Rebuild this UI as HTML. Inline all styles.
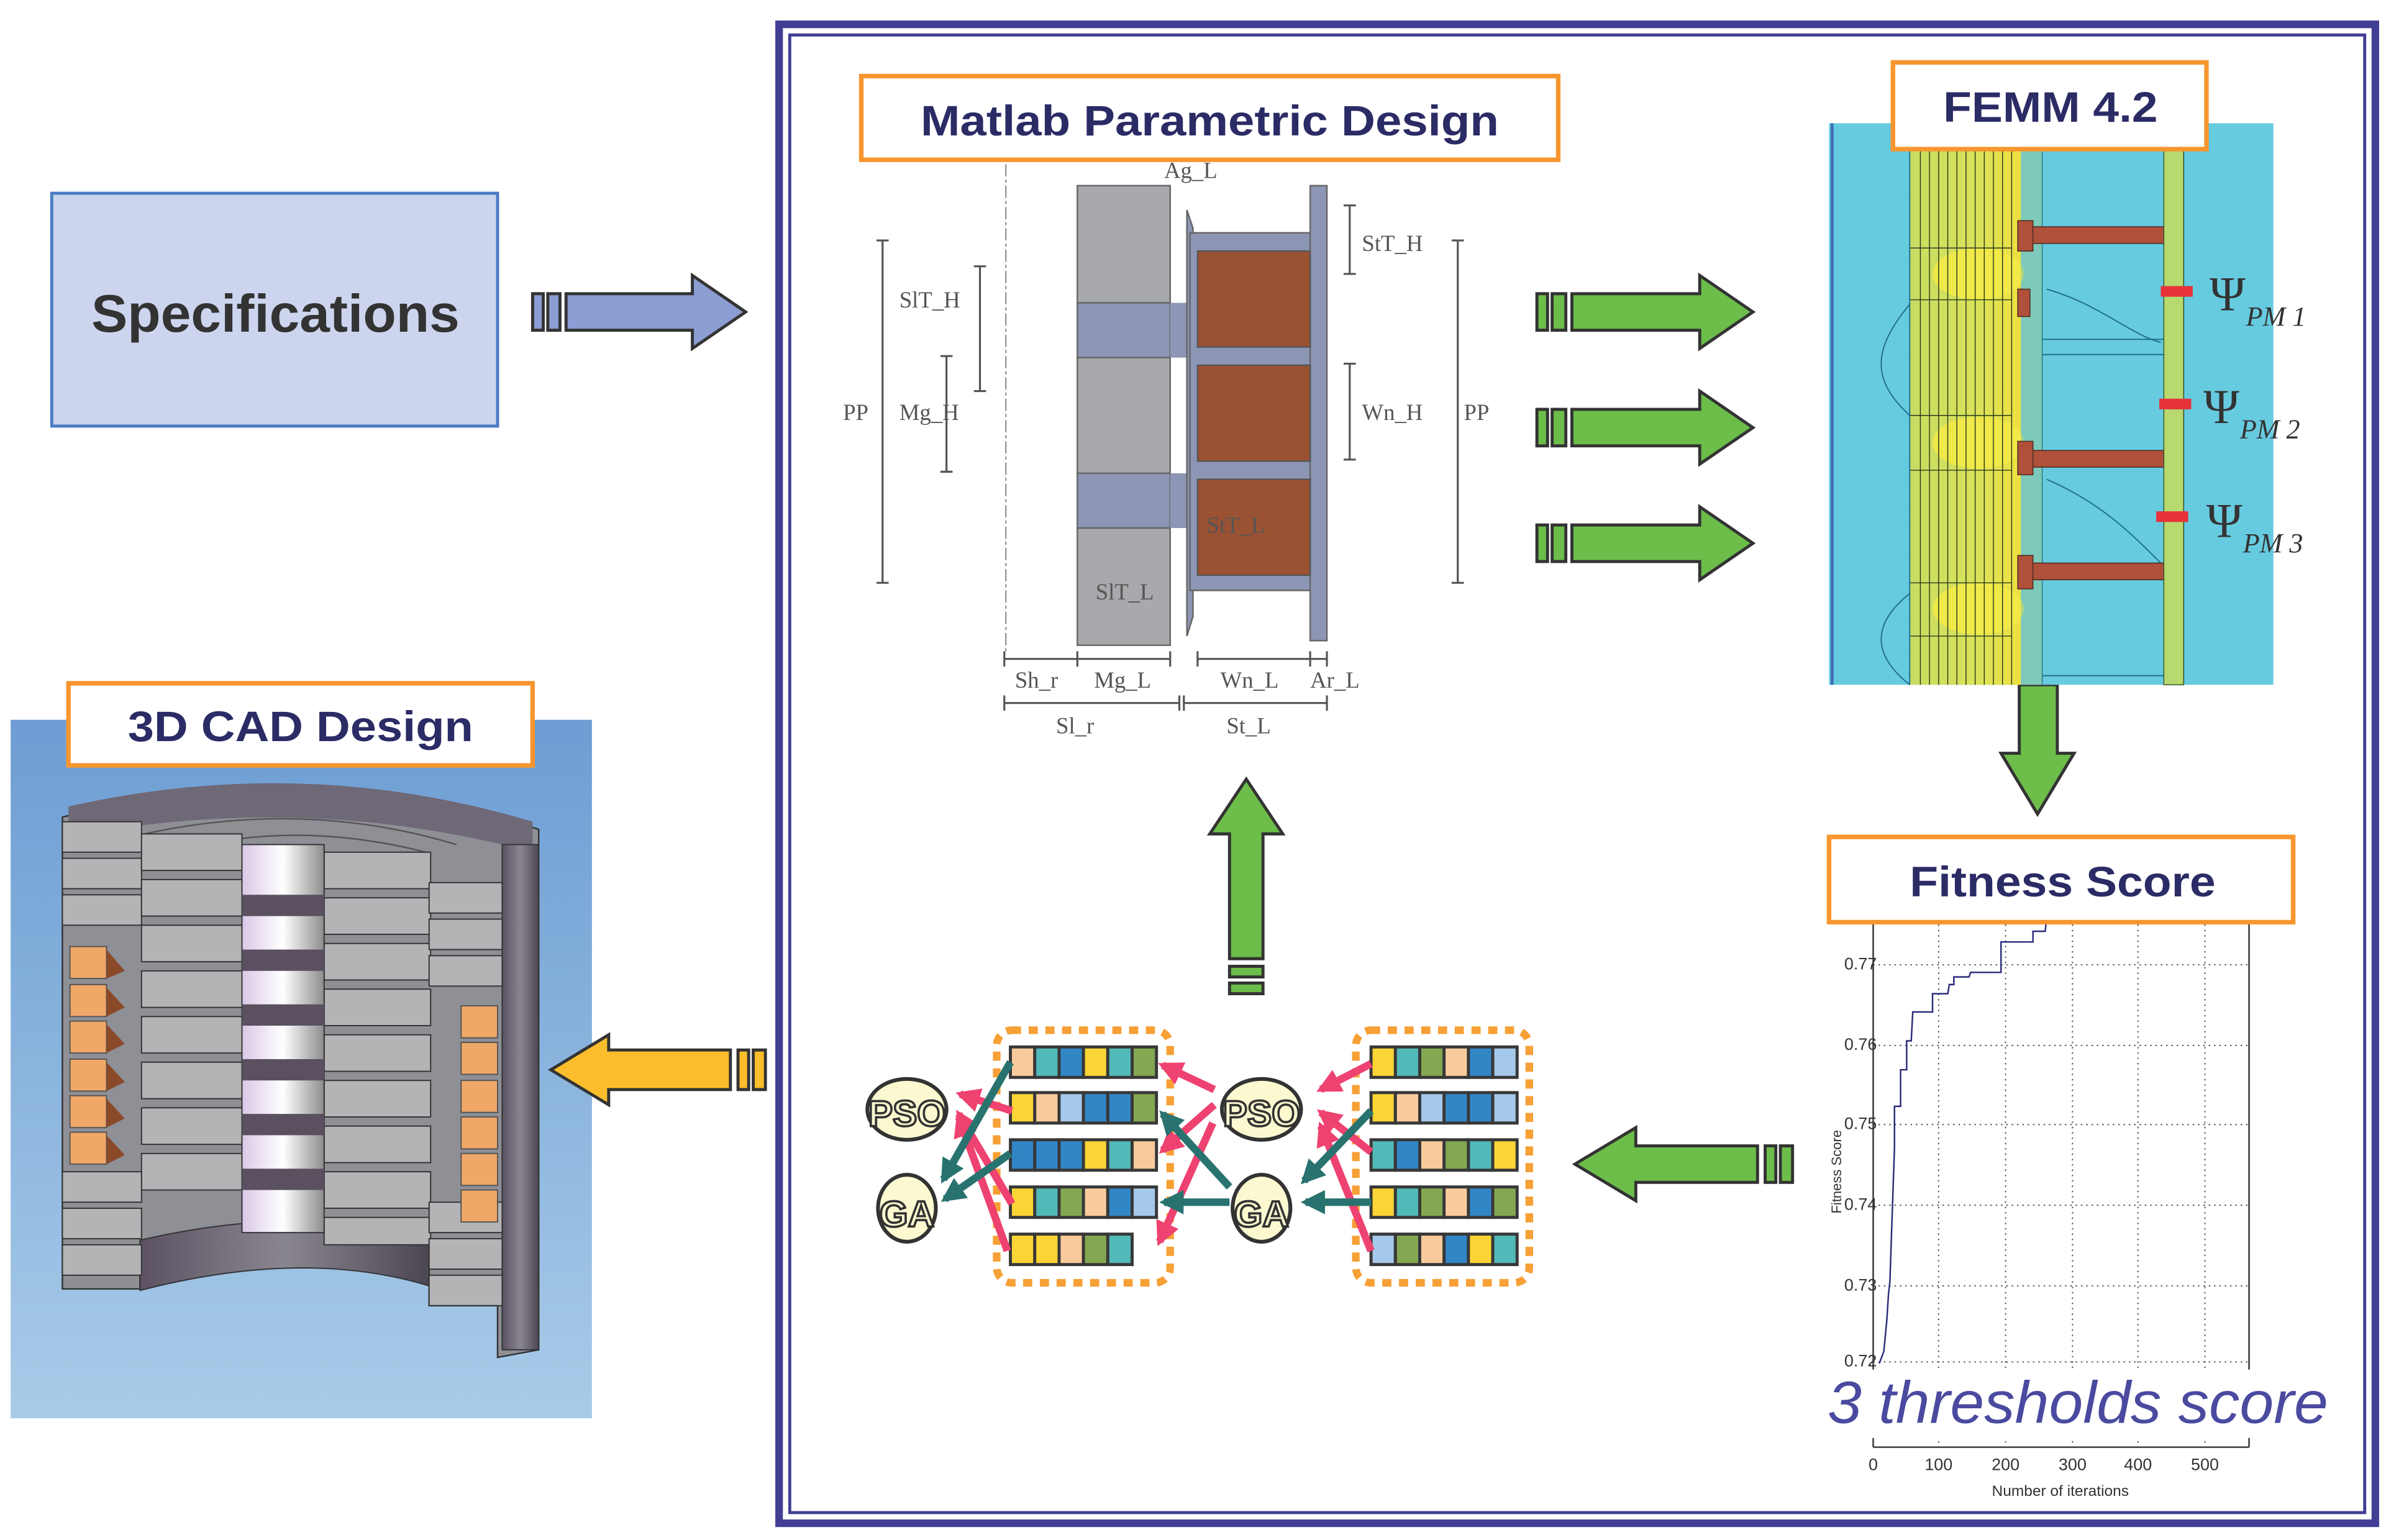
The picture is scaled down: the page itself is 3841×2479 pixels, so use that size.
<!DOCTYPE html>
<html><head><meta charset="utf-8"><style>
html,body{margin:0;padding:0;background:#fff;}
svg{display:block;}
text{font-family:"Liberation Sans",sans-serif;}
.serif{font-family:"Liberation Serif",serif;fill:#555;font-size:15px;}
</style></head><body>
<svg width="3841" height="2479" viewBox="0 0 1568 1012" preserveAspectRatio="none" xmlns="http://www.w3.org/2000/svg">
<defs>
<linearGradient id="bg3d" x1="0" y1="0" x2="0" y2="1"><stop offset="0" stop-color="#6d9dd3"/><stop offset="1" stop-color="#a8cbe8"/></linearGradient>
<linearGradient id="shell" x1="0" y1="0" x2="1" y2="0"><stop offset="0" stop-color="#5c5262"/><stop offset="0.5" stop-color="#8a8690"/><stop offset="1" stop-color="#4c4652"/></linearGradient>
<linearGradient id="col" x1="0" y1="0" x2="1" y2="0"><stop offset="0" stop-color="#d9c8e6"/><stop offset="0.5" stop-color="#ffffff"/><stop offset="1" stop-color="#8d8d8d"/></linearGradient>
<linearGradient id="yel" x1="0" y1="0" x2="1" y2="0"><stop offset="0" stop-color="#c8dc62"/><stop offset="0.6" stop-color="#d9e25a"/><stop offset="1" stop-color="#f0e040"/></linearGradient>
<marker id="mp" viewBox="0 0 10 10" refX="8" refY="5" markerWidth="3.2" markerHeight="3.2" orient="auto"><path d="M0,0L10,5L0,10z" fill="#ee4270"/></marker>
<marker id="mt" viewBox="0 0 10 10" refX="8" refY="5" markerWidth="3.2" markerHeight="3.2" orient="auto"><path d="M0,0L10,5L0,10z" fill="#287370"/></marker>
</defs>

<rect x="512" y="16" width="1049" height="985" fill="none" stroke="#413f94" stroke-width="5"/>
<rect x="519" y="23" width="1035" height="971" fill="none" stroke="#413f94" stroke-width="2"/>

<rect x="34" y="127" width="293" height="153" fill="#cdd5ee" stroke="#4a7cc4" stroke-width="2"/>
<text x="60" y="218" font-size="35" font-weight="bold" fill="#333" textLength="242" lengthAdjust="spacingAndGlyphs">Specifications</text>
<g fill="#8c9dd4" stroke="#333" stroke-width="2">
<rect x="350" y="193" width="7" height="24"/><rect x="360" y="193" width="8" height="24"/>
<polygon points="372,193 455,193 455,181 490,205 455,229 455,217 372,217"/>
</g>

<rect x="566" y="50" width="458" height="55" fill="#fff" stroke="#f7962f" stroke-width="3"/>
<text x="605" y="89" font-size="28" font-weight="bold" fill="#2b2b66" textLength="380" lengthAdjust="spacingAndGlyphs">Matlab Parametric Design</text>

<line x1="661" y1="108" x2="661" y2="428" stroke="#999" stroke-width="1" stroke-dasharray="8,2,2,2"/>
<rect x="708" y="122" width="61" height="77" fill="#a8a9ac" stroke="#666" stroke-width="1"/>
<rect x="708" y="199" width="61" height="36" fill="#8d96b4" stroke="#666" stroke-width="1"/>
<rect x="708" y="235" width="61" height="76" fill="#a8a9ac" stroke="#666" stroke-width="1"/>
<rect x="708" y="311" width="61" height="36" fill="#8d96b4" stroke="#666" stroke-width="1"/>
<rect x="708" y="347" width="61" height="77" fill="#a8a9ac" stroke="#666" stroke-width="1"/>
<rect x="769" y="199" width="12" height="36" fill="#8d96b4"/>
<rect x="769" y="311" width="12" height="36" fill="#8d96b4"/>
<path d="M780,138 L784,150 L784,405 L780,418 Z" fill="#8d96b4" stroke="#666" stroke-width="1"/>
<rect x="782" y="153" width="80" height="235" fill="#8d96b4" stroke="#666" stroke-width="1"/>
<rect x="861" y="122" width="11" height="299" fill="#8d96b4" stroke="#666" stroke-width="1"/>
<rect x="787" y="165" width="74" height="63" fill="#9a5232" stroke="#555" stroke-width="1"/>
<rect x="787" y="240" width="74" height="63" fill="#9a5232" stroke="#555" stroke-width="1"/>
<rect x="787" y="315" width="74" height="63" fill="#9a5232" stroke="#555" stroke-width="1"/>
<g stroke="#555" stroke-width="1.3" fill="none">
<line x1="580" y1="158" x2="580" y2="383"/><line x1="576" y1="158" x2="584" y2="158"/><line x1="576" y1="383" x2="584" y2="383"/>
<line x1="644" y1="175" x2="644" y2="257"/><line x1="640" y1="175" x2="648" y2="175"/><line x1="640" y1="257" x2="648" y2="257"/>
<line x1="622" y1="234" x2="622" y2="310"/><line x1="618" y1="234" x2="626" y2="234"/><line x1="618" y1="310" x2="626" y2="310"/>
<line x1="887" y1="135" x2="887" y2="180"/><line x1="883" y1="135" x2="891" y2="135"/><line x1="883" y1="180" x2="891" y2="180"/>
<line x1="887" y1="239" x2="887" y2="302"/><line x1="883" y1="239" x2="891" y2="239"/><line x1="883" y1="302" x2="891" y2="302"/>
<line x1="958" y1="158" x2="958" y2="383"/><line x1="954" y1="158" x2="962" y2="158"/><line x1="954" y1="383" x2="962" y2="383"/>
<line x1="660" y1="433" x2="769" y2="433"/><line x1="660" y1="428" x2="660" y2="438"/><line x1="708" y1="428" x2="708" y2="438"/><line x1="769" y1="428" x2="769" y2="438"/>
<line x1="787" y1="433" x2="872" y2="433"/><line x1="787" y1="428" x2="787" y2="438"/><line x1="861" y1="428" x2="861" y2="438"/><line x1="872" y1="428" x2="872" y2="438"/>
<line x1="660" y1="462" x2="775" y2="462"/><line x1="660" y1="457" x2="660" y2="467"/><line x1="775" y1="457" x2="775" y2="467"/>
<line x1="778" y1="462" x2="872" y2="462"/><line x1="778" y1="457" x2="778" y2="467"/><line x1="872" y1="457" x2="872" y2="467"/>
</g>
<text class="serif" x="765" y="117">Ag_L</text>
<text class="serif" x="591" y="202">SlT_H</text>
<text class="serif" x="554" y="276">PP</text>
<text class="serif" x="591" y="276">Mg_H</text>
<text class="serif" x="895" y="165">StT_H</text>
<text class="serif" x="895" y="276">Wn_H</text>
<text class="serif" x="962" y="276">PP</text>
<text class="serif" x="793" y="350">StT_L</text>
<text class="serif" x="720" y="394">SlT_L</text>
<text class="serif" x="667" y="452">Sh_r</text>
<text class="serif" x="719" y="452">Mg_L</text>
<text class="serif" x="802" y="452">Wn_L</text>
<text class="serif" x="861" y="452">Ar_L</text>
<text class="serif" x="694" y="482">Sl_r</text>
<text class="serif" x="806" y="482">St_L</text>

<g fill="#6cbd4a" stroke="#333" stroke-width="2">
<rect x="1010" y="193" width="7" height="24"/><rect x="1020" y="193" width="9" height="24"/>
<polygon points="1033,193 1117,193 1117,181 1152,205 1117,229 1117,217 1033,217"/>
<rect x="1010" y="269" width="7" height="24"/><rect x="1020" y="269" width="9" height="24"/>
<polygon points="1033,269 1117,269 1117,257 1152,281 1117,305 1117,293 1033,293"/>
<rect x="1010" y="345" width="7" height="24"/><rect x="1020" y="345" width="9" height="24"/>
<polygon points="1033,345 1117,345 1117,333 1152,357 1117,381 1117,369 1033,369"/>
<polygon points="1327,450 1352,450 1352,495 1363,495 1339,535 1315,495 1327,495"/>
<polygon points="1035,765 1075,741 1075,753 1155,753 1155,777 1075,777 1075,789"/>
<rect x="1160" y="753" width="7" height="24"/><rect x="1170" y="753" width="8" height="24"/>
<polygon points="819,512 843,548 830,548 830,630 808,630 808,548 795,548"/>
<rect x="808" y="635" width="22" height="7"/><rect x="808" y="646" width="22" height="7"/>
</g>

<!-- FEMM -->
<rect x="1202" y="81" width="292" height="369" fill="#67cbe0"/>
<rect x="1203" y="81" width="2" height="369" fill="#3f6fb8"/>
<rect x="1255" y="81" width="73" height="369" fill="url(#yel)"/>
<g fill="#f2ea48" opacity="0.9">
<ellipse cx="1300" cy="180" rx="30" ry="17"/><ellipse cx="1300" cy="291" rx="30" ry="17"/><ellipse cx="1300" cy="400" rx="30" ry="17"/>
</g>
<g stroke="#2b3a1c" stroke-width="0.6" fill="none">
<line x1="1262" y1="81" x2="1262" y2="450"/><line x1="1268" y1="81" x2="1268" y2="450"/><line x1="1274" y1="81" x2="1274" y2="450"/>
<line x1="1280" y1="81" x2="1280" y2="450"/><line x1="1286" y1="81" x2="1286" y2="450"/><line x1="1292" y1="81" x2="1292" y2="450"/>
<line x1="1298" y1="81" x2="1298" y2="450"/><line x1="1304" y1="81" x2="1304" y2="450"/><line x1="1310" y1="81" x2="1310" y2="450"/>
<line x1="1316" y1="81" x2="1316" y2="450"/><line x1="1322" y1="81" x2="1322" y2="450"/>
<line x1="1255" y1="163" x2="1322" y2="163"/><line x1="1255" y1="197" x2="1322" y2="197"/><line x1="1255" y1="273" x2="1322" y2="273"/>
<line x1="1255" y1="309" x2="1322" y2="309"/><line x1="1255" y1="383" x2="1322" y2="383"/><line x1="1255" y1="418" x2="1322" y2="418"/>
</g>
<g stroke="#1f6f8a" stroke-width="0.8" fill="none">
<line x1="1255" y1="81" x2="1255" y2="450"/><line x1="1342" y1="81" x2="1342" y2="450"/><line x1="1435" y1="81" x2="1435" y2="450"/>
<line x1="1342" y1="223" x2="1422" y2="223"/><line x1="1342" y1="233" x2="1422" y2="233"/><line x1="1342" y1="444" x2="1422" y2="444"/>
<path d="M1255,200 C1230,230 1230,250 1255,273"/><path d="M1255,390 C1230,410 1230,430 1255,450"/>
<path d="M1345,190 C1380,200 1400,220 1420,225"/><path d="M1345,315 C1380,330 1400,350 1420,370"/>
</g>
<rect x="1328" y="81" width="14" height="369" fill="#8ec9a0" opacity="0.6"/>
<g fill="#b0503a" stroke="#4a2a20" stroke-width="0.6">
<rect x="1326" y="145" width="10" height="20"/><rect x="1326" y="190" width="8" height="18"/>
<rect x="1326" y="290" width="10" height="22"/><rect x="1326" y="365" width="10" height="22"/>
<rect x="1336" y="149" width="86" height="11"/><rect x="1336" y="296" width="86" height="11"/><rect x="1336" y="370" width="86" height="11"/>
</g>
<rect x="1422" y="81" width="13" height="369" fill="#b8d870" stroke="#3a5a2a" stroke-width="0.6"/>
<g fill="#e8323a"><rect x="1420" y="188" width="21" height="7"/><rect x="1419" y="262" width="21" height="7"/><rect x="1417" y="336" width="21" height="7"/></g>
<g fill="#333" style="font-family:'Liberation Serif',serif">
<text x="1452" y="204" font-size="32" style="font-family:'Liberation Serif',serif">Ψ</text><text x="1476" y="214" font-size="18" font-style="italic" style="font-family:'Liberation Serif',serif">PM 1</text>
<text x="1448" y="278" font-size="32" style="font-family:'Liberation Serif',serif">Ψ</text><text x="1472" y="288" font-size="18" font-style="italic" style="font-family:'Liberation Serif',serif">PM 2</text>
<text x="1450" y="353" font-size="32" style="font-family:'Liberation Serif',serif">Ψ</text><text x="1474" y="363" font-size="18" font-style="italic" style="font-family:'Liberation Serif',serif">PM 3</text>
</g>
<rect x="1244" y="41" width="206" height="57" fill="#fff" stroke="#f7962f" stroke-width="3"/>
<text x="1277" y="80" font-size="28" font-weight="bold" fill="#2b2b66" textLength="141" lengthAdjust="spacingAndGlyphs">FEMM 4.2</text>

<!-- chart -->
<g stroke="#555" stroke-width="0.8" stroke-dasharray="1,2.5" fill="none">
<line x1="1231" y1="634" x2="1478" y2="634"/><line x1="1231" y1="687" x2="1478" y2="687"/><line x1="1231" y1="739" x2="1478" y2="739"/>
<line x1="1231" y1="792" x2="1478" y2="792"/><line x1="1231" y1="845" x2="1478" y2="845"/><line x1="1231" y1="895" x2="1478" y2="895"/>
<line x1="1274" y1="604" x2="1274" y2="951"/><line x1="1318" y1="604" x2="1318" y2="951"/><line x1="1362" y1="604" x2="1362" y2="951"/>
<line x1="1405" y1="604" x2="1405" y2="951"/><line x1="1449" y1="604" x2="1449" y2="951"/>
</g>
<g stroke="#333" stroke-width="1" fill="none">
<line x1="1231" y1="604" x2="1231" y2="951"/><line x1="1478" y1="604" x2="1478" y2="951"/><line x1="1231" y1="951" x2="1478" y2="951"/>
</g>
<polyline fill="none" stroke="#2b2b7a" stroke-width="1" points="1235,896 1238,888 1240,867 1241,851 1242,842 1243,812 1245,754 1245,727 1249,727 1249,703 1253,703 1253,684 1256,684 1257,665 1270,665 1270,653 1280,653 1281,647 1284,647 1284,642 1294,642 1295,639 1315,639 1315,619 1336,619 1336,612 1344,612 1345,604"/>
<g font-family="Liberation Sans Narrow,Liberation Sans,sans-serif" font-size="11" fill="#333">
<text x="1212" y="637">0.77</text><text x="1212" y="690">0.76</text><text x="1212" y="742">0.75</text>
<text x="1212" y="795">0.74</text><text x="1212" y="848">0.73</text><text x="1212" y="898">0.72</text>
<text x="1231" y="966" text-anchor="middle">0</text><text x="1274" y="966" text-anchor="middle">100</text><text x="1318" y="966" text-anchor="middle">200</text>
<text x="1362" y="966" text-anchor="middle">300</text><text x="1405" y="966" text-anchor="middle">400</text><text x="1449" y="966" text-anchor="middle">500</text>
<text x="1354" y="983" text-anchor="middle" font-size="10">Number of iterations</text>
<text transform="translate(1210,770) rotate(-90)" text-anchor="middle" font-size="9">Fitness Score</text>
</g>
<rect x="1200" y="900" width="330" height="45" fill="#fff"/>
<text x="1201" y="935" font-size="39" font-style="italic" fill="#4a4aa0" textLength="329" lengthAdjust="spacingAndGlyphs">3 thresholds score</text>
<rect x="1202" y="550" width="305" height="56" fill="#fff" stroke="#f7962f" stroke-width="3"/>
<text x="1255" y="589" font-size="28" font-weight="bold" fill="#2b2b66" textLength="201" lengthAdjust="spacingAndGlyphs">Fitness Score</text>

<!-- GA / PSO -->
<rect x="655" y="677" width="114" height="166" rx="10" fill="none" stroke="#f7a035" stroke-width="5" stroke-dasharray="6,5"/>
<rect x="891" y="677" width="114" height="166" rx="10" fill="none" stroke="#f7a035" stroke-width="5" stroke-dasharray="6,5"/>
<g stroke="#383838" stroke-width="2">
<rect x="664" y="688" width="16" height="20" fill="#f9cb9c"/><rect x="680" y="688" width="16" height="20" fill="#52b9b9"/><rect x="696" y="688" width="16" height="20" fill="#3186c6"/><rect x="712" y="688" width="16" height="20" fill="#fbd535"/><rect x="728" y="688" width="16" height="20" fill="#52b9b9"/><rect x="744" y="688" width="16" height="20" fill="#84a851"/>
<rect x="664" y="718" width="16" height="20" fill="#fbd535"/><rect x="680" y="718" width="16" height="20" fill="#f9cb9c"/><rect x="696" y="718" width="16" height="20" fill="#a5c9ea"/><rect x="712" y="718" width="16" height="20" fill="#3186c6"/><rect x="728" y="718" width="16" height="20" fill="#3186c6"/><rect x="744" y="718" width="16" height="20" fill="#84a851"/>
<rect x="664" y="749" width="16" height="20" fill="#3186c6"/><rect x="680" y="749" width="16" height="20" fill="#3186c6"/><rect x="696" y="749" width="16" height="20" fill="#3186c6"/><rect x="712" y="749" width="16" height="20" fill="#fbd535"/><rect x="728" y="749" width="16" height="20" fill="#52b9b9"/><rect x="744" y="749" width="16" height="20" fill="#f9cb9c"/>
<rect x="664" y="780" width="16" height="20" fill="#fbd535"/><rect x="680" y="780" width="16" height="20" fill="#52b9b9"/><rect x="696" y="780" width="16" height="20" fill="#84a851"/><rect x="712" y="780" width="16" height="20" fill="#f9cb9c"/><rect x="728" y="780" width="16" height="20" fill="#3186c6"/><rect x="744" y="780" width="16" height="20" fill="#a5c9ea"/>
<rect x="664" y="811" width="16" height="20" fill="#fbd535"/><rect x="680" y="811" width="16" height="20" fill="#fbd535"/><rect x="696" y="811" width="16" height="20" fill="#f9cb9c"/><rect x="712" y="811" width="16" height="20" fill="#84a851"/><rect x="728" y="811" width="16" height="20" fill="#52b9b9"/>
<rect x="901" y="688" width="16" height="20" fill="#fbd535"/><rect x="917" y="688" width="16" height="20" fill="#52b9b9"/><rect x="933" y="688" width="16" height="20" fill="#84a851"/><rect x="949" y="688" width="16" height="20" fill="#f9cb9c"/><rect x="965" y="688" width="16" height="20" fill="#3186c6"/><rect x="981" y="688" width="16" height="20" fill="#a5c9ea"/>
<rect x="901" y="718" width="16" height="20" fill="#fbd535"/><rect x="917" y="718" width="16" height="20" fill="#f9cb9c"/><rect x="933" y="718" width="16" height="20" fill="#a5c9ea"/><rect x="949" y="718" width="16" height="20" fill="#3186c6"/><rect x="965" y="718" width="16" height="20" fill="#3186c6"/><rect x="981" y="718" width="16" height="20" fill="#a5c9ea"/>
<rect x="901" y="749" width="16" height="20" fill="#52b9b9"/><rect x="917" y="749" width="16" height="20" fill="#3186c6"/><rect x="933" y="749" width="16" height="20" fill="#f9cb9c"/><rect x="949" y="749" width="16" height="20" fill="#84a851"/><rect x="965" y="749" width="16" height="20" fill="#52b9b9"/><rect x="981" y="749" width="16" height="20" fill="#fbd535"/>
<rect x="901" y="780" width="16" height="20" fill="#fbd535"/><rect x="917" y="780" width="16" height="20" fill="#52b9b9"/><rect x="933" y="780" width="16" height="20" fill="#84a851"/><rect x="949" y="780" width="16" height="20" fill="#f9cb9c"/><rect x="965" y="780" width="16" height="20" fill="#3186c6"/><rect x="981" y="780" width="16" height="20" fill="#84a851"/>
<rect x="901" y="811" width="16" height="20" fill="#a5c9ea"/><rect x="917" y="811" width="16" height="20" fill="#84a851"/><rect x="933" y="811" width="16" height="20" fill="#f9cb9c"/><rect x="949" y="811" width="16" height="20" fill="#3186c6"/><rect x="965" y="811" width="16" height="20" fill="#fbd535"/><rect x="981" y="811" width="16" height="20" fill="#52b9b9"/>
</g>
<g fill="#fcf9d0" stroke="#333" stroke-width="2.5">
<ellipse cx="596" cy="729" rx="26" ry="20"/><ellipse cx="596" cy="794" rx="19" ry="22"/>
<ellipse cx="829" cy="729" rx="26" ry="20"/><ellipse cx="829" cy="794" rx="19" ry="22"/>
</g>
<g font-size="24" font-weight="bold" fill="#fcf9d0" stroke="#333" stroke-width="1.5" text-anchor="middle">
<text x="596" y="740">PSO</text><text x="596" y="806">GA</text><text x="829" y="740">PSO</text><text x="829" y="806">GA</text>
</g>
<g stroke="#ee4270" stroke-width="5" marker-end="url(#mp)">
<line x1="798" y1="716" x2="764" y2="700"/><line x1="798" y1="726" x2="764" y2="756"/><line x1="797" y1="738" x2="762" y2="816"/>
<line x1="901" y1="699" x2="868" y2="716"/><line x1="901" y1="757" x2="868" y2="731"/><line x1="901" y1="822" x2="868" y2="740"/>
<line x1="665" y1="730" x2="631" y2="719"/><line x1="665" y1="791" x2="630" y2="732"/><line x1="662" y1="822" x2="630" y2="734"/>
</g>
<g stroke="#287370" stroke-width="5" marker-end="url(#mt)">
<line x1="664" y1="698" x2="620" y2="775"/><line x1="664" y1="758" x2="621" y2="788"/>
<line x1="808" y1="780" x2="764" y2="732"/><line x1="808" y1="790" x2="765" y2="790"/>
<line x1="901" y1="730" x2="857" y2="776"/><line x1="901" y1="790" x2="858" y2="790"/>
</g>

<!-- 3D CAD -->
<rect x="7" y="473" width="382" height="459" fill="url(#bg3d)"/>
<path d="M41,537 Q200,495 354,545 L354,887 L327,892 L327,858 L282,858 L282,823 Q200,800 92,820 L92,847 L41,847 Z" fill="#8f8f96" stroke="#333" stroke-width="1"/>
<path d="M45,530 Q200,495 350,540 L350,560 Q200,520 45,550 Z" fill="#6e6877"/>
<path d="M95,548 Q200,525 300,555" fill="none" stroke="#555" stroke-width="1"/>
<path d="M130,556 Q200,540 280,560" fill="none" stroke="#555" stroke-width="1"/>
<rect x="330" y="555" width="24" height="332" fill="url(#shell)" stroke="#333" stroke-width="0.8"/>
<path d="M92,815 Q200,790 282,815 L282,845 Q200,820 92,848 Z" fill="url(#shell)" stroke="#333" stroke-width="0.8"/>
<g stroke="#333" stroke-width="0.8" fill="#b4b4b6">
<rect x="41" y="540" width="52" height="20"/><rect x="41" y="564" width="52" height="20"/><rect x="41" y="588" width="52" height="20"/>
<rect x="93" y="548" width="66" height="24"/><rect x="93" y="578" width="66" height="24"/><rect x="93" y="608" width="66" height="24"/><rect x="93" y="638" width="66" height="24"/><rect x="93" y="668" width="66" height="24"/><rect x="93" y="698" width="66" height="24"/><rect x="93" y="728" width="66" height="24"/><rect x="93" y="758" width="66" height="24"/>
<rect x="213" y="560" width="70" height="24"/><rect x="213" y="590" width="70" height="24"/><rect x="213" y="620" width="70" height="24"/><rect x="213" y="650" width="70" height="24"/><rect x="213" y="680" width="70" height="24"/><rect x="213" y="710" width="70" height="24"/><rect x="213" y="740" width="70" height="24"/><rect x="213" y="770" width="70" height="24"/><rect x="213" y="800" width="70" height="18"/>
<rect x="282" y="580" width="48" height="20"/><rect x="282" y="604" width="48" height="20"/><rect x="282" y="628" width="48" height="20"/>
<rect x="282" y="790" width="48" height="20"/><rect x="282" y="814" width="48" height="20"/><rect x="282" y="838" width="48" height="20"/>
<rect x="41" y="770" width="52" height="20"/><rect x="41" y="794" width="52" height="20"/><rect x="41" y="818" width="52" height="20"/>
</g>
<rect x="159" y="555" width="54" height="255" fill="url(#col)" stroke="#333" stroke-width="0.8"/>
<g fill="#5a5060">
<rect x="159" y="588" width="54" height="14"/><rect x="159" y="624" width="54" height="14"/><rect x="159" y="660" width="54" height="14"/><rect x="159" y="696" width="54" height="14"/><rect x="159" y="732" width="54" height="14"/><rect x="159" y="768" width="54" height="14"/>
</g>
<g fill="#f0a868" stroke="#555" stroke-width="0.8">
<rect x="46" y="622" width="24" height="21"/><rect x="46" y="647" width="24" height="21"/><rect x="46" y="671" width="24" height="21"/><rect x="46" y="696" width="24" height="21"/><rect x="46" y="720" width="24" height="21"/><rect x="46" y="744" width="24" height="21"/>
<rect x="303" y="661" width="24" height="21"/><rect x="303" y="685" width="24" height="21"/><rect x="303" y="710" width="24" height="21"/><rect x="303" y="734" width="24" height="21"/><rect x="303" y="758" width="24" height="21"/><rect x="303" y="782" width="24" height="21"/>
</g>
<g fill="#8a4a2a"><polygon points="70,624 82,638 70,643"/><polygon points="70,649 82,662 70,668"/><polygon points="70,673 82,686 70,692"/><polygon points="70,698 82,711 70,717"/><polygon points="70,722 82,735 70,741"/><polygon points="70,746 82,759 70,765"/></g>
<rect x="45" y="449" width="305" height="54" fill="#fff" stroke="#f7962f" stroke-width="3"/>
<text x="84" y="487" font-size="28" font-weight="bold" fill="#2b2b66" textLength="227" lengthAdjust="spacingAndGlyphs">3D CAD Design</text>

<!-- yellow arrow (on top) -->
<g fill="#fbbd2b" stroke="#333" stroke-width="2">
<polygon points="362,703 400,680 400,690 480,690 480,716 400,716 400,726"/>
<rect x="485" y="690" width="7" height="26"/><rect x="495" y="690" width="8" height="26"/>
</g>
</svg>
</body></html>
